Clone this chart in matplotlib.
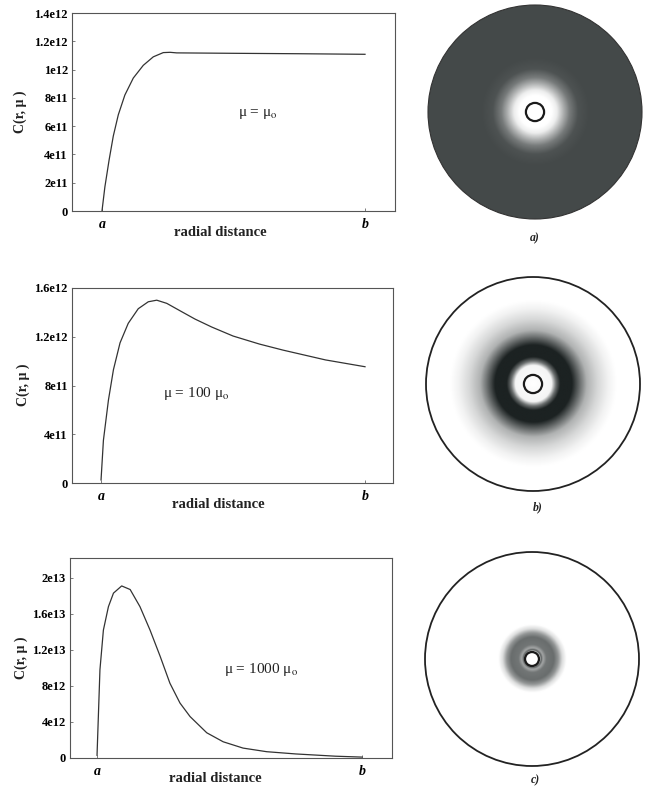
import numpy as np
import matplotlib
matplotlib.use("Agg")
import matplotlib.pyplot as plt
from matplotlib.patches import Circle
from matplotlib.colors import LinearSegmentedColormap

plt.rcParams['font.family'] = ['Liberation Serif', 'DejaVu Serif']
plt.rcParams['mathtext.fontset'] = 'stix'

# ---------------- data ----------------
# radial position normalised: 0 = a, 1 = b
t1 = [0, 0.011, 0.027, 0.043, 0.062, 0.087, 0.119, 0.157, 0.195, 0.233, 0.259, 0.284,
      0.5, 0.75, 1.0]
c1 = [0, 0.17e12, 0.36e12, 0.53e12, 0.68e12, 0.82e12, 0.94e12, 1.03e12, 1.09e12, 1.12e12,
      1.122e12, 1.118e12, 1.115e12, 1.112e12, 1.108e12]

t2 = [0, 0.009, 0.028, 0.047, 0.072, 0.103, 0.141, 0.179, 0.211, 0.249, 0.306, 0.356,
      0.419, 0.5, 0.6, 0.69, 0.85, 1.0]
c2 = [0.025e12, 0.35e12, 0.68e12, 0.93e12, 1.15e12, 1.31e12, 1.43e12, 1.487e12, 1.5e12,
      1.474e12, 1.405e12, 1.345e12, 1.28e12, 1.206e12, 1.14e12, 1.09e12, 1.01e12, 0.954e12]

t3 = [0, 0.011, 0.024, 0.043, 0.062, 0.093, 0.125, 0.162, 0.2, 0.238, 0.275, 0.313, 0.351,
      0.414, 0.476, 0.551, 0.64, 0.75, 0.9, 1.0]
c3 = [0.03e13, 0.98e13, 1.42e13, 1.68e13, 1.83e13, 1.91e13, 1.87e13, 1.68e13, 1.42e13,
      1.13e13, 0.83e13, 0.61e13, 0.46e13, 0.28e13, 0.18e13, 0.11e13, 0.07e13, 0.045e13,
      0.02e13, 0.01e13]

yt1 = [0, 2e11, 4e11, 6e11, 8e11, 1e12, 1.2e12, 1.4e12]
yl1 = ["0", "2e11", "4e11", "6e11", "8e11", "1e12", "1.2e12", "1.4e12"]
yt2 = [0, 4e11, 8e11, 1.2e12, 1.6e12]
yl2 = ["0", "4e11", "8e11", "1.2e12", "1.6e12"]
yt3 = [0, 4e12, 8e12, 1.2e13, 1.6e13, 2e13]
yl3 = ["0", "4e12", "8e12", "1.2e13", "1.6e13", "2e13"]

annots = ["μ = μ$_{\\mathrm{o}}$", "μ = 100 μ$_{\\mathrm{o}}$", "μ = 1000 μ$_{\\mathrm{o}}$"]
panel_labels = ["a)", "b)", "c)"]

# disk darkness profiles (radius normalised to disk radius)
dr_a = [0, 0.15, 0.2, 0.26, 0.32, 0.4, 0.5, 1.0]
dk_a = [0, 0, 0.08, 0.35, 0.6, 0.78, 0.82, 0.82]
dr_b = [0, 0.17, 0.21, 0.25, 0.36, 0.42, 0.5, 0.6, 0.7, 0.78, 1.0]
dk_b = [0, 0.05, 0.65, 1.0, 1.0, 0.72, 0.35, 0.18, 0.06, 0, 0]
dr_c = [0, 0.065, 0.08, 0.1, 0.13, 0.2, 0.24, 0.28, 0.32, 1.0]
dk_c = [0, 0, 0.75, 0.4, 0.62, 0.66, 0.48, 0.15, 0, 0]

# ---------------- figure ----------------
W, H = 645, 787
fig = plt.figure(figsize=(W / 100, H / 100), dpi=100)
fig.patch.set_facecolor('white')

def ax_px(l, t, r, b):
    return fig.add_axes([l / W, 1 - b / H, (r - l) / W, (b - t) / H])

plots = [
    dict(box=(72, 13, 395, 211), t=t1, c=c1, yt=yt1, yl=yl1, ylim=(0, 1.4e12),
         xl=(-0.114, 1.114), ann=(258, 114), ylab=(20, 112), xlab=(220, 232)),
    dict(box=(72, 288, 393, 483), t=t2, c=c2, yt=yt2, yl=yl2, ylim=(0, 1.6e12),
         xl=(-0.11, 1.106), ann=(196, 394), ylab=(23, 385), xlab=(218, 504)),
    dict(box=(70, 558, 392, 758), t=t3, c=c3, yt=yt3, yl=yl3, ylim=(0, 2.22e13),
         xl=(-0.102, 1.113), ann=(261, 670), ylab=(21, 658), xlab=(215, 778)),
]

for i, p in enumerate(plots):
    l, tp, r, b = p['box']
    ax = ax_px(l, tp, r, b)
    ax.plot(p['t'], p['c'], color='#333333', lw=0.9)
    ax.set_xlim(*p['xl'])
    ax.set_ylim(*p['ylim'])
    ax.set_yticks(p['yt'])
    ax.set_yticklabels(p['yl'], fontsize=9, fontweight='bold')
    ax.set_xticks([0, 1])
    ax.set_xticklabels(['a', 'b'], fontsize=10, fontweight='bold', style='italic')
    ax.tick_params(axis='both', direction='in', length=2, width=0.6, color='#666666', pad=3)
    ax.tick_params(axis='x', pad=5)
    for s in ax.spines.values():
        s.set_color('#555555')
        s.set_linewidth(0.8)
    w = r - l
    h = b - tp
    ax.text((p['ann'][0] - l) / w, (b - p['ann'][1]) / h, annots[i], transform=ax.transAxes,
            ha='center', va='center', fontsize=11, color='#222222')
    ax.text((p['ylab'][0] - l) / w, (b - p['ylab'][1]) / h, "C(r, μ )", transform=ax.transAxes,
            ha='center', va='center', rotation=90, fontsize=10, fontweight='bold', color='#222222')
    ax.text((p['xlab'][0] - l) / w, (b - p['xlab'][1]) / h, "radial distance", transform=ax.transAxes,
            ha='center', va='center', fontsize=10.5, fontweight='bold', color='#222222')

# ---------------- disks ----------------
cmap = LinearSegmentedColormap.from_list('scan', ['#ffffff', '#1c2222'])
disks = [
    dict(c=(535, 112), r=107, dr=dr_a, dk=dk_a, ring=0.085, outline=False, lab=(535, 238)),
    dict(c=(533, 384), r=107, dr=dr_b, dk=dk_b, ring=0.085, outline=True, lab=(538, 507)),
    dict(c=(532, 659), r=107, dr=dr_c, dk=dk_c, ring=0.065, outline=True, lab=(535, 780)),
]
n = 401
g = np.linspace(-1.05, 1.05, n)
X, Y = np.meshgrid(g, g)
R = np.sqrt(X ** 2 + Y ** 2)
for i, d in enumerate(disks):
    cx, cy = d['c']
    half = d['r'] * 1.05
    ax = ax_px(cx - half, cy - half, cx + half, cy + half)
    ax.set_xlim(-1.05, 1.05)
    ax.set_ylim(-1.05, 1.05)
    ax.axis('off')
    dark = np.interp(R, d['dr'], d['dk'])
    im = ax.imshow(dark, extent=(-1.05, 1.05, -1.05, 1.05), cmap=cmap, vmin=0, vmax=1,
                   origin='lower', interpolation='bilinear')
    clip = Circle((0, 0), 1.0, transform=ax.transData)
    im.set_clip_path(clip)
    if d['outline']:
        ax.add_patch(Circle((0, 0), 1.0, fill=False, ec='#222222', lw=1.3))
    else:
        ax.add_patch(Circle((0, 0), 1.0, fill=False, ec='#333333', lw=0.8))
    ax.add_patch(Circle((0, 0), d['ring'], fill=False, ec='#1a1a1a', lw=1.6))
    fig.text(d['lab'][0] / W, 1 - d['lab'][1] / H, panel_labels[i], ha='center', va='center',
             fontsize=8.5, fontweight='bold', style='italic', color='#222222')

fig.savefig('out.png', dpi=100, facecolor='white')
